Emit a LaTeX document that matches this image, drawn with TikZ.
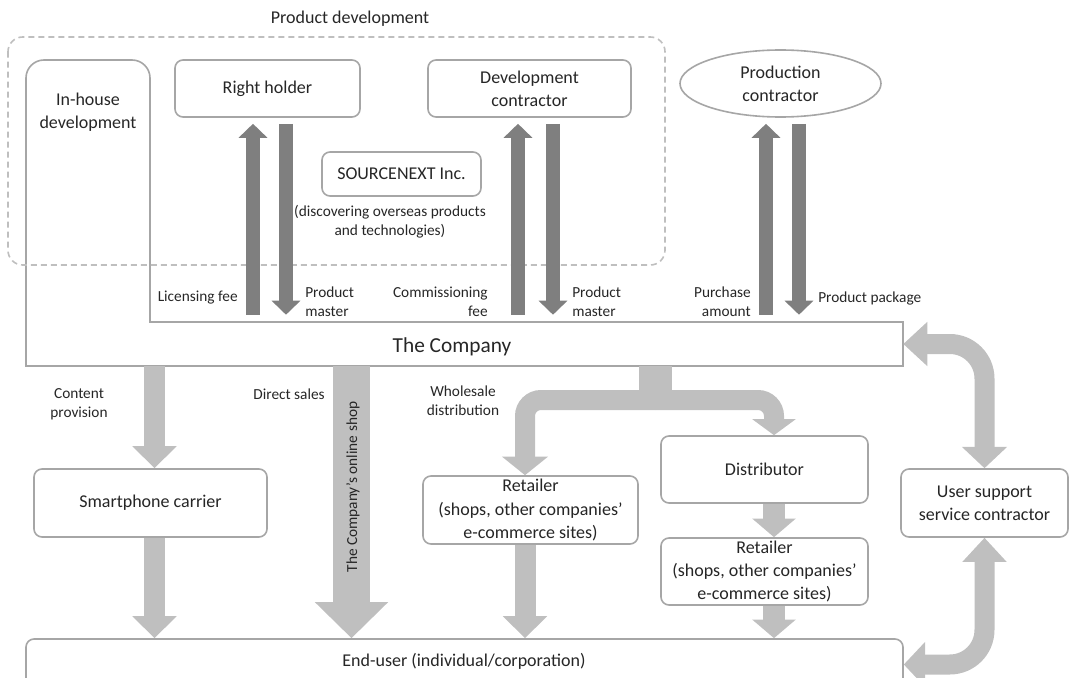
\documentclass[tikz,border=0pt]{standalone}
\usepackage{fontspec}
\setmainfont{Carlito}
\usetikzlibrary{arrows.meta,shapes.geometric,calc}
\definecolor{boxline}{HTML}{A6A6A6}
\definecolor{dashline}{HTML}{BFBFBF}
\definecolor{darkarr}{HTML}{7F7F7F}
\definecolor{lightarr}{HTML}{BFBFBF}
\definecolor{txt}{HTML}{262626}
\begin{document}
\begin{tikzpicture}[x=0.75pt,y=-0.75pt, text=txt,
  box/.style={draw=boxline, line width=1.2pt, rounded corners=6pt, fill=white, align=center, inner sep=0pt, font=\fontsize{13.5}{17.5}\selectfont},
  big/.style={align=center, inner sep=0pt, font=\fontsize{13.5}{17.5}\selectfont},
  lbl/.style={inner sep=0pt, font=\fontsize{11.5}{14.5}\selectfont},
  darr/.style={draw=darkarr, line width=10.5pt, -{Triangle[length=10.5pt,width=21pt]}},
  larr/.style={draw=lightarr, line width=15.75pt, -{Triangle[length=16.5pt,width=32.25pt]}},
  uarr/.style={draw=lightarr, line width=15pt, rounded corners=26pt, {Triangle[length=18pt,width=32pt]}-{Triangle[length=16pt,width=33pt]}},
]
\useasboundingbox (0,0) rectangle (1076,678);
\clip (0,0) rectangle (1076,678);

% x positions of connectors
\coordinate (a1) at (253,0);
\coordinate (a2) at (286,0);
\coordinate (b1) at (518,0);
\coordinate (b2) at (553,0);
\coordinate (c1) at (766,0);
\coordinate (c2) at (799,0);
\coordinate (cx) at (154.5,0);
\coordinate (dx) at (351.5,0);
\coordinate (wx) at (655,0);
\coordinate (wl) at (525,0);
\coordinate (wr) at (774,0);
\coordinate (wb) at (655,400);

% In-house development + The Company (one outline)
\draw[draw=boxline, line width=1.2pt]
  (26,366) -- (26,78) arc[start angle=180, end angle=270, radius=18]
  -- (132,60) arc[start angle=270, end angle=360, radius=18]
  -- (150,322) -- (903,322) -- (903,366) -- cycle;
\node[inner sep=0pt, minimum width=657.75pt, minimum height=33pt] (comp) at (464.5,344) {};
\node[inner sep=0pt, font=\fontsize{16}{19}\selectfont] (comptxt) at (452,347) {The Company};
\node[big] (inh) at (88,112) {In-house\\development};

% Product development group
\draw[draw=dashline, line width=1.2pt, dash pattern=on 4.5pt off 3pt, rounded corners=11pt] (8,37) rectangle (665,265);
\node[big] (pdlbl) at (350,19) {Product development};

% top boxes
\node[box, minimum width=138.75pt, minimum height=42.75pt] (rh) at (267.5,88.5) {Right holder};
\node[box, minimum width=152.25pt, minimum height=42.75pt] (dc) at (529.5,88.5) {Development\\contractor};
\node[box, minimum width=119.25pt, minimum height=33pt] (src) at (401.5,174) {SOURCENEXT Inc.};
\node[lbl, align=center] (disc) at (390,222) {(discovering overseas products\\and technologies)};
\node[draw=boxline, line width=1.2pt, ellipse, fill=white, minimum width=150.75pt, minimum height=50.25pt, inner sep=0pt, big] (pc) at (780.5,83.5) {Production\\contractor};

% dark arrows
\draw[darr, shorten <=5.25pt, shorten >=4.5pt] (comp.north -| a1) -- (rh.south -| a1);
\draw[darr, shorten <=4.5pt, shorten >=5.25pt] (rh.south -| a2) -- (comp.north -| a2);
\draw[darr, shorten <=5.25pt, shorten >=4.5pt] (comp.north -| b1) -- (dc.south -| b1);
\draw[darr, shorten <=4.5pt, shorten >=5.25pt] (dc.south -| b2) -- (comp.north -| b2);
\draw[darr, shorten <=5.25pt, shorten >=4.5pt] (comp.north -| c1) -- (pc.south -| c1);
\draw[darr, shorten <=4.5pt, shorten >=5.25pt] (pc.south -| c2) -- (comp.north -| c2);

\node[lbl, anchor=east] (l1) at (238,298) {Licensing fee};
\node[lbl, anchor=west, align=left] (l2) at (305,301.5) {Product\\master};
\node[lbl, anchor=east, align=right] (l3) at (488,301.5) {Commissioning\\fee};
\node[lbl, anchor=west, align=left] (l4) at (572,301.5) {Product\\master};
\node[lbl, anchor=east, align=right] (l5) at (751,301.5) {Purchase\\amount};
\node[lbl, anchor=west] (l6) at (818,298) {Product package};

% lower boxes
\node[box, minimum width=174.75pt, minimum height=51pt] (sc) at (150.5,503) {Smartphone carrier};
\node[box, minimum width=161.25pt, minimum height=51pt] (r1) at (530.5,510) {Retailer\\(shops, other companies’\\e-commerce sites)};
\node[box, minimum width=155.25pt, minimum height=50.25pt] (dist) at (764.5,469.5) {Distributor};
\node[box, minimum width=155.25pt, minimum height=50.25pt] (r2) at (764.5,571.5) {Retailer\\(shops, other companies’\\e-commerce sites)};
\node[box, minimum width=125.25pt, minimum height=51pt] (us) at (984.5,503) {User support\\service contractor};
\node[box, minimum width=657.75pt, minimum height=38.25pt] (end) at (464.5,664.5) {};
\node[big] (endtxt) at (464,661) {End-user (individual/corporation)};

% light arrows
\draw[larr] (comp.south -| cx) -- (sc.north -| cx);
\draw[larr] (sc.south -| cx) -- (end.north -| cx);
\draw[larr, line width=27.75pt, -{Triangle[length=27pt,width=53.25pt]}] (comp.south -| dx) -- (end.north -| dx);
\node[lbl, rotate=90] (shop) at (353,487) {The Company’s online shop};

\draw[draw=lightarr, line width=24.75pt] (comp.south -| wx) -- (655,410);
\draw[larr, line width=15pt, rounded corners=12pt, -{Triangle[length=14pt,width=34pt]}] (wb) -| (r1.north -| wl);
\draw[larr, line width=15pt, rounded corners=12pt, -{Triangle[length=12pt,width=32pt]}] (wb) -| (dist.north -| wr);
\draw[larr, line width=16pt, -{Triangle[length=14pt,width=32pt]}] (dist.south -| wr) -- (r2.north -| wr);
\draw[larr, line width=16pt, -{Triangle[length=14pt,width=32pt]}] (r2.south -| wr) -- (end.north -| wr);
\draw[larr] (r1.south -| wl) -- (end.north -| wl);

\draw[uarr] (comp.east) -- (us.north |- comp.east) -- (us.north);
\draw[uarr] (us.south) -- (us.south |- end.east) -- (end.east);

\node[lbl, align=center] (cp) at (79,404) {Content\\provision};
\node[lbl, anchor=east] (ds) at (325,394) {Direct sales};
\node[lbl, align=center] (wd) at (463,401) {Wholesale\\distribution};
\end{tikzpicture}
\end{document}
